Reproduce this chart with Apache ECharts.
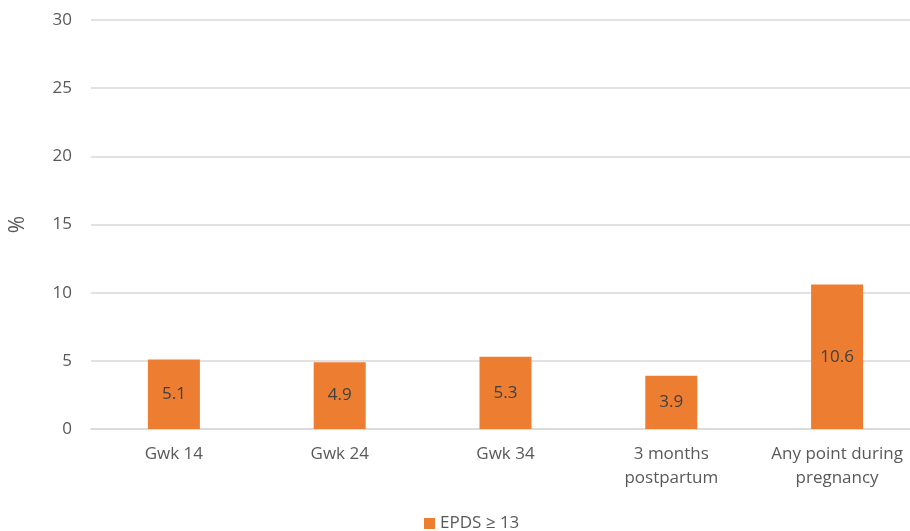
<!DOCTYPE html>
<html>
<head>
<meta charset="utf-8">
<script src="https://cdn.jsdelivr.net/npm/echarts@6/dist/echarts.min.js"></script>
<style>
  html, body { margin: 0; padding: 0; background: #fff; }
  #chart { width: 910px; height: 531px; }
</style>
</head>
<body>
<div id="chart"></div>
<script>
const categories = ['Gwk 14', 'Gwk 24', 'Gwk 34', '3 months\npostpartum', 'Any point during\npregnancy']
const epdsValues = [5.1, 4.9, 5.3, 3.9, 10.6]
const seriesName = 'EPDS \u2265 13'

const TEXT = '#595959'
const FONT = 'Open Sans'

const chart = echarts.init(document.getElementById('chart'))

chart.setOption({
  animation: false,
  textStyle: { fontFamily: FONT },
  grid: { left: 91, width: 829, top: 20, bottom: 102, outerBoundsMode: 'none', containLabel: false },
  legend: {
    top: 510,
    left: 419,
    icon: 'rect',
    itemWidth: 11,
    itemHeight: 11,
    itemGap: 6,
    textStyle: { color: TEXT, fontSize: 17, fontFamily: FONT },
    data: [seriesName]
  },
  xAxis: {
    type: 'category',
    data: categories,
    axisLine: { lineStyle: { color: '#d9d9d9', width: 1.5 } },
    axisTick: { show: false },
    axisLabel: { color: TEXT, fontSize: 17, lineHeight: 24, margin: 13, interval: 0 }
  },
  yAxis: {
    type: 'value',
    min: 0,
    max: 30,
    interval: 5,
    name: '%',
    nameLocation: 'middle',
    nameRotate: 90,
    nameGap: 62,
    nameTextStyle: { color: TEXT, fontSize: 21 },
    axisLine: { show: false },
    axisTick: { show: false },
    axisLabel: { color: TEXT, fontSize: 17, margin: 19 },
    splitLine: { lineStyle: { color: '#d9d9d9', width: 1.5 } }
  },
  series: [{
    name: seriesName,
    type: 'bar',
    data: epdsValues,
    barWidth: 52,
    itemStyle: { color: '#ed7d31' },
    label: {
      show: true,
      position: 'inside',
      color: '#404040',
      fontSize: 17,
      formatter: p => p.value.toFixed(1)
    }
  }]
})
</script>
</body>
</html>
